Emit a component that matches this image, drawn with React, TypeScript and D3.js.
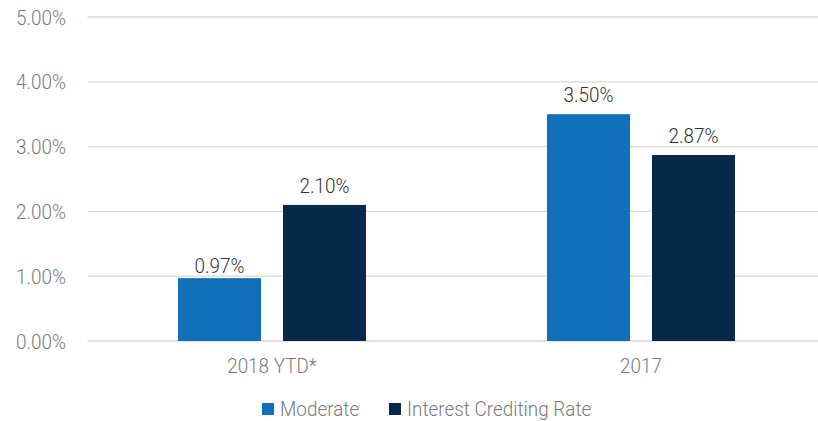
import React, { useRef, useEffect } from "react"
import * as d3 from "d3"

const categories = ["2018 YTD*", "2017"]
const seriesNames = ["Moderate", "Interest Crediting Rate"]
const moderate = [0.97, 3.5]
const interestCrediting = [2.1, 2.87]
const yTicks = [0, 1, 2, 3, 4, 5]

const colors = ["#1170b9", "#08294a"]

const width = 818
const height = 421

// roboto squeezed a bit to look like the condensed face in the original
function label(sel, x, y, txt, fill, anchor = "middle") {
  return sel
    .append("text")
    .attr("transform", `translate(${x},${y}) scale(0.9,1)`)
    .attr("text-anchor", anchor)
    .attr("font-family", "Roboto, sans-serif")
    .attr("font-weight", 300)
    .attr("font-size", 21)
    .attr("fill", fill)
    .text(txt)
}

export default function App() {
  const svgRef: React.RefObject<SVGSVGElement> = useRef(null)

  useEffect(() => {
    if (svgRef.current == null) return
    const svg = d3.select(svgRef.current)
    svg.selectAll("*").remove()

    const margin = { left: 87.5, right: -7.5, top: 17, bottom: 80 }
    const axisGrey = "#7a7a7a"

    const x0 = d3
      .scaleBand()
      .domain(categories)
      .range([margin.left, width - margin.right])
      .padding(0)

    const groupWidth = 188
    const x1 = d3
      .scaleBand()
      .domain(seriesNames)
      .range([0, groupWidth])
      .paddingInner(22 / 105)
      .paddingOuter(0)

    const y = d3.scaleLinear().domain([0, 5]).range([height - margin.bottom, margin.top])

    // grid + y labels
    const grid = svg.append("g")
    grid
      .selectAll("line")
      .data(yTicks)
      .enter()
      .append("line")
      .attr("x1", margin.left)
      .attr("x2", width)
      .attr("y1", d => y(d))
      .attr("y2", d => y(d))
      .attr("stroke", "#d9d9d9")
      .attr("stroke-width", 1.3)

    yTicks.forEach(t => label(grid, 66, y(t) + 7.5, t.toFixed(2) + "%", axisGrey, "end"))

    const rows = categories.map((c, i) => ({
      category: c,
      values: [moderate[i], interestCrediting[i]],
    }))

    rows.forEach(row => {
      const g = svg
        .append("g")
        .attr(
          "transform",
          `translate(${x0(row.category)! + (x0.bandwidth() - groupWidth) / 2},0)`
        )
      row.values.forEach((v, j) => {
        const name = seriesNames[j]
        g.append("rect")
          .attr("x", x1(name)!)
          .attr("width", x1.bandwidth())
          .attr("y", y(v))
          .attr("height", y(0) - y(v))
          .attr("fill", colors[j])
        // the small bar's label sits closer to it in the original
        const gap = v < 1 ? 5 : 12
        label(g, x1(name)! + x1.bandwidth() / 2, y(v) - gap, v.toFixed(2) + "%", "#333")
      })
    })

    // category labels
    categories.forEach(c => label(svg, x0(c)! + x0.bandwidth() / 2, 373, c, axisGrey))

    // legend
    const legendX = [262, 389]
    seriesNames.forEach((name, i) => {
      svg
        .append("rect")
        .attr("x", legendX[i])
        .attr("y", 403)
        .attr("width", 12)
        .attr("height", 12)
        .attr("fill", colors[i])
      label(svg, legendX[i] + 18, 416, name, axisGrey, "start")
    })
  }, [])

  return (
    <svg
      ref={svgRef}
      width={width}
      height={height}
      style={{ position: "absolute", left: 0, top: 0, background: "#fff" }}
    />
  )
}
